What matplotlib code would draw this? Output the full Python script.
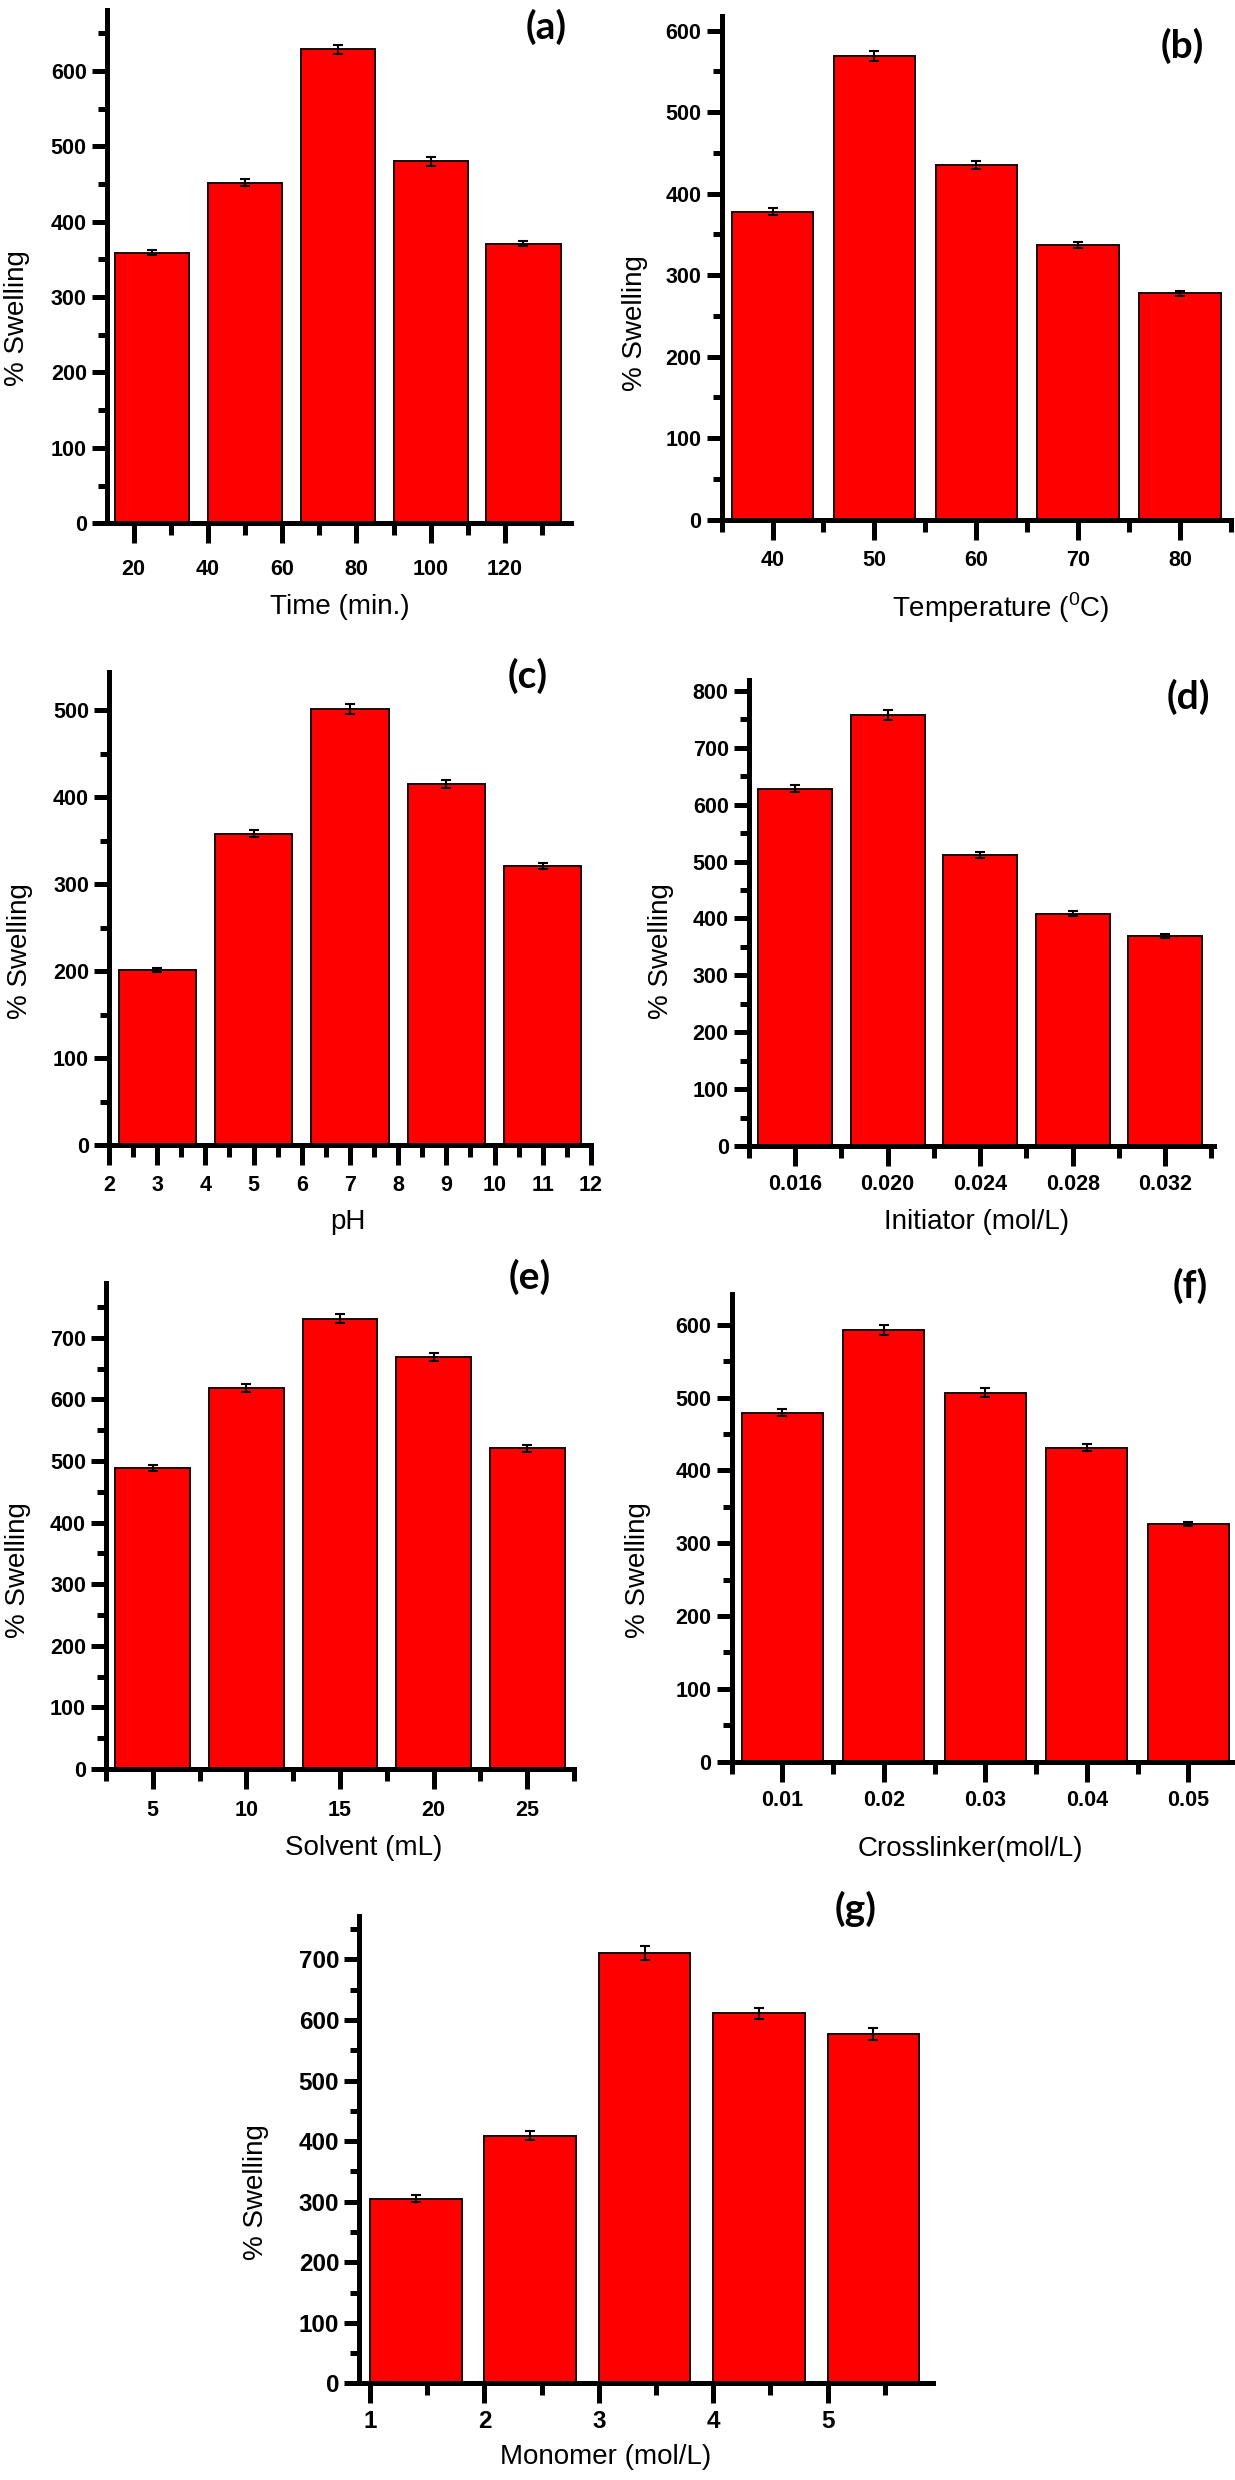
import matplotlib
matplotlib.use('Agg')
import matplotlib.pyplot as plt

plt.rcParams['font.family'] = ['Liberation Sans', 'DejaVu Sans']
plt.rcParams['mathtext.fontset'] = 'custom'
plt.rcParams['mathtext.rm'] = 'Liberation Sans'

# data
time_min = [25, 50, 75, 100, 125]
swell_time = [359, 452, 629, 480, 371]
err_time = [3.6, 4.7, 6.2, 5.7, 3.6]
time_ticks = [20, 40, 60, 80, 100, 120]

temp_c = [40, 50, 60, 70, 80]
swell_temp = [378, 569, 435, 337, 278]
err_temp = [4.6, 5.9, 4.8, 3.5, 3.0]
temp_ticks = [40, 50, 60, 70, 80]

ph = [3, 5, 7, 9, 11]
swell_ph = [201, 358, 502, 415, 321]
err_ph = [2.3, 4.1, 5.7, 4.8, 3.6]
ph_ticks = [2, 3, 4, 5, 6, 7, 8, 9, 10, 11, 12]

initiator = [0.016, 0.020, 0.024, 0.028, 0.032]
swell_init = [628, 757, 512, 408, 369]
err_init = [5.7, 8.8, 5.4, 4.6, 4.0]
init_ticks = ['0.016', '0.020', '0.024', '0.028', '0.032']

solvent = [5, 10, 15, 20, 25]
swell_solv = [489, 618, 731, 669, 521]
err_solv = [4.9, 6.4, 7.2, 6.7, 5.8]
solv_ticks = [5, 10, 15, 20, 25]

crosslinker = [0.01, 0.02, 0.03, 0.04, 0.05]
swell_cross = [479, 593, 507, 431, 326]
err_cross = [4.9, 6.4, 5.6, 4.7, 3.0]
cross_ticks = ['0.01', '0.02', '0.03', '0.04', '0.05']

monomer = [1, 2, 3, 4, 5]
swell_mono = [305, 409, 711, 611, 577]
err_mono = [6.2, 7.1, 11.5, 8.8, 9.3]
mono_ticks = [1, 2, 3, 4, 5]

W, H = 1235, 2480
fig = plt.figure(figsize=(W / 100, H / 100), dpi=100)
PT = 0.72  # points per pixel at dpi 100


def fx(x):
    return x / W


def fy(y):
    return 1 - y / H


def panel(box, xlim, ylim, x, y, err, width, ticks, labels, minor, xlabel, xlab_pos,
          ylab_pos, letter, letter_pos, pad, tsize=15.5, align='center'):
    x0, x1, ytop, yzero = box
    ax = fig.add_axes([fx(x0), fy(yzero), (x1 - x0) / W, (yzero - ytop) / H])
    ax.bar(x, y, width=width, align=align, color='#ff0000', edgecolor='#1a0505',
           linewidth=1.4, zorder=2)
    xc = [v + width / 2 for v in x] if align == 'edge' else x
    ax.errorbar(xc, y, yerr=err, fmt='none', ecolor='black', elinewidth=1.5,
                capsize=3.5, capthick=1.5, zorder=3)
    ax.set_xlim(*xlim)
    ax.set_ylim(*ylim)
    for s in ['top', 'right']:
        ax.spines[s].set_visible(False)
    for s in ['left', 'bottom']:
        ax.spines[s].set_linewidth(3.6)
    ax.set_xticks(ticks, labels=[str(l) for l in labels], fontweight='bold', fontsize=tsize)
    ax.set_xticks(minor, minor=True)
    yt = list(range(0, int(ylim[1]) + 1, 100))
    ax.set_yticks(yt, labels=[str(v) for v in yt], fontweight='bold', fontsize=tsize)
    ax.set_yticks(list(range(50, int(ylim[1]) + 1, 100)), minor=True)
    ax.tick_params(axis='x', which='major', length=20 * PT, width=3.6, pad=pad * PT)
    ax.tick_params(axis='x', which='minor', length=12 * PT, width=3.6)
    ax.tick_params(axis='y', which='major', length=15 * PT, width=3.6, pad=5 * PT)
    ax.tick_params(axis='y', which='minor', length=9 * PT, width=3.6)
    ax.set_xlabel(xlabel, fontsize=20, va='center', ha='center')
    ax.xaxis.set_label_coords(fx(xlab_pos[0]), fy(xlab_pos[1]), transform=fig.transFigure)
    ax.set_ylabel('% Swelling', fontsize=20, va='center', ha='center')
    ax.yaxis.set_label_coords(fx(ylab_pos[0]), fy(ylab_pos[1]), transform=fig.transFigure)
    fig.text(fx(letter_pos[0]), fy(letter_pos[1]), letter, fontsize=28, fontweight='bold',
             family=['Lato', 'DejaVu Sans'], ha='center', va='center')
    return ax


panel((106.8, 571.4, 10, 523.2), (12.8, 137.9), (0, 681), time_min, swell_time, err_time, 20,
      time_ticks, time_ticks, [30, 50, 70, 90, 110, 130], 'Time (min.)', (340, 607),
      (17, 318), '(a)', (546, 27), 16)

panel((721.6, 1231, 16, 519.6), (35, 85), (0, 618), temp_c, swell_temp, err_temp, 8,
      temp_ticks, temp_ticks, [35, 45, 55, 65, 75, 85], r'Temperature ($^{\mathrm{0}}$C)',
      (1001, 608), (635, 323), '(b)', (1182, 46), 10.7)

panel((109, 591, 672, 1145.4), (2, 12), (0, 544), ph, swell_ph, err_ph, 1.6,
      ph_ticks, ph_ticks, [2.5 + i for i in range(10)], 'pH', (348, 1222),
      (20, 951), '(c)', (528, 676), 9.6)

panel((748.7, 1213.8, 680, 1146), (0.014, 0.0341), (0, 819), initiator, swell_init, err_init,
      0.0032, initiator, init_ticks, [0.014, 0.018, 0.022, 0.026, 0.030, 0.034],
      'Initiator (mol/L)', (977, 1222), (661, 951), '(d)', (1188, 697), 8.4)

panel((106, 574, 1283, 1769), (2.5, 27.5), (0, 789), solvent, swell_solv, err_solv, 4,
      solv_ticks, solv_ticks, [2.5, 7.5, 12.5, 17.5, 22.5, 27.5], 'Solvent (mL)', (364, 1848),
      (18, 1570), '(e)', (530, 1277), 11.5)

panel((731.6, 1233, 1294.3, 1761.5), (0.005, 0.0544), (0, 642), crosslinker, swell_cross,
      err_cross, 0.008, crosslinker, cross_ticks, [0.005, 0.015, 0.025, 0.035, 0.045],
      'Crosslinker(mol/L)', (970, 1849), (638, 1570), '(f)', (1190, 1286), 8.3)

panel((359.2, 933, 1915.8, 2383.4), (0.906, 5.92), (0, 772), monomer, swell_mono, err_mono,
      0.8, mono_ticks, mono_ticks, [1.5, 2.5, 3.5, 4.5, 5.5], 'Monomer (mol/L)', (606, 2457),
      (256, 2192), '(g)', (856, 1909), 6.6, tsize=17.5, align='edge')

fig.savefig('out.png', dpi=100)
